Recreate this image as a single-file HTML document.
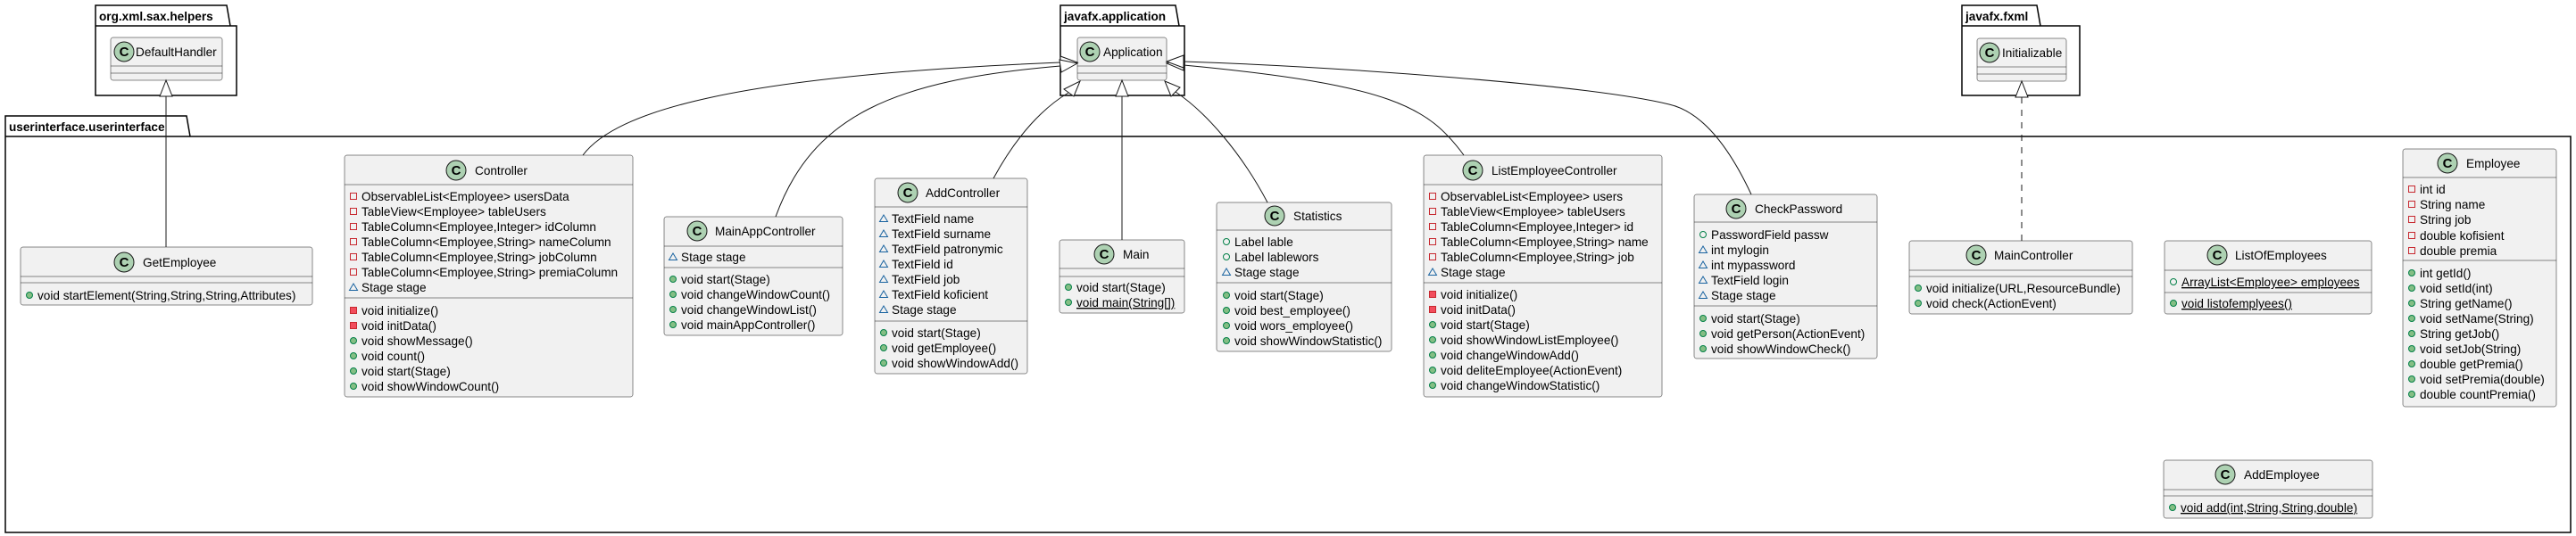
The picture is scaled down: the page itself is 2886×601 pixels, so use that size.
<!DOCTYPE html>
<html><head><meta charset="utf-8"><style>
html,body{margin:0;padding:0;background:#fff;}
svg{display:block;}
text{font-family:"Liberation Sans",Arial,sans-serif;font-size:13.6px;fill:#000;}
.pk{font-weight:bold;font-size:13.6px;}
.cb{fill:#F1F1F1;stroke:#181818;stroke-width:0.5;}
.sep{stroke:#181818;stroke-width:0.5;}
.pkg{fill:none;stroke:#000;stroke-width:1.5;}
.ed{fill:none;stroke:#181818;stroke-width:1;}
.tri{fill:#fff;stroke:#181818;stroke-width:1;}
.ci{fill:#ADD1B2;stroke:#181818;stroke-width:1;}
.cc{font-weight:bold;font-size:15px;text-anchor:middle;}
.u{text-decoration:underline;}
</style></head><body>
<svg width="2886" height="601" viewBox="0 0 2886 601" xmlns="http://www.w3.org/2000/svg">
<defs>
<rect id="pf" x="-3.5" y="-3.5" width="7" height="7" fill="none" stroke="#C82930" stroke-width="1"/>
<rect id="pm" x="-3.5" y="-3.5" width="7" height="7" fill="#F24D5C" stroke="#C82930" stroke-width="1"/>
<circle id="um" r="3.5" fill="#84BE84" stroke="#038048" stroke-width="1"/>
<circle id="uf" r="3.5" fill="none" stroke="#038048" stroke-width="1"/>
<polygon id="kf" points="0,-4 4.5,3.5 -4.5,3.5" fill="none" stroke="#1963A0" stroke-width="1"/>
</defs>

<!-- packages -->
<path class="pkg" d="M107,29 V6 H254 L258,29 H265 V107 H107 Z M107,29 H258"/>
<text class="pk" x="111" y="23">org.xml.sax.helpers</text>
<path class="pkg" d="M1188,29 V6 H1317 L1321,29 H1327 V107 H1188 Z M1188,29 H1321"/>
<text class="pk" x="1192" y="23">javafx.application</text>
<path class="pkg" d="M2198,29 V6 H2282 L2286,29 H2330 V107 H2198 Z M2198,29 H2286"/>
<text class="pk" x="2202" y="23">javafx.fxml</text>
<path class="pkg" d="M6,153 V130 H209 L213,153 H2880 V597 H6 Z M6,153 H213"/>
<text class="pk" x="10" y="147">userinterface.userinterface</text>

<!-- DefaultHandler -->
<rect class="cb" x="124" y="42" width="125" height="48" rx="2.5"/>
<line class="sep" x1="124" y1="74" x2="249" y2="74"/><line class="sep" x1="124" y1="82" x2="249" y2="82"/>
<circle class="ci" cx="139" cy="58" r="11"/><text class="cc" x="139" y="63">C</text>
<text x="152" y="63">DefaultHandler</text>

<!-- Application -->
<rect class="cb" x="1207" y="42" width="100" height="48" rx="2.5"/>
<line class="sep" x1="1207" y1="74" x2="1307" y2="74"/><line class="sep" x1="1207" y1="82" x2="1307" y2="82"/>
<circle class="ci" cx="1221" cy="58" r="11"/><text class="cc" x="1221" y="63">C</text>
<text x="1236" y="63">Application</text>

<!-- Initializable -->
<rect class="cb" x="2215" y="43" width="100" height="48" rx="2.5"/>
<line class="sep" x1="2215" y1="75" x2="2315" y2="75"/><line class="sep" x1="2215" y1="83" x2="2315" y2="83"/>
<circle class="ci" cx="2229" cy="59" r="11"/><text class="cc" x="2229" y="64">C</text>
<text x="2243" y="64">Initializable</text>

<!-- GetEmployee -->
<rect class="cb" x="23" y="277" width="327" height="65" rx="2.5"/>
<line class="sep" x1="23" y1="310" x2="350" y2="310"/><line class="sep" x1="23" y1="317" x2="350" y2="317"/>
<circle class="ci" cx="139" cy="294" r="11"/><text class="cc" x="139" y="299">C</text>
<text x="160" y="299">GetEmployee</text>
<use href="#um" x="33" y="331"/><text x="42" y="336">void startElement(String,String,String,Attributes)</text>

<!-- Controller -->
<rect class="cb" x="386" y="174" width="323" height="271" rx="2.5"/>
<line class="sep" x1="386" y1="207" x2="709" y2="207"/><line class="sep" x1="386" y1="334" x2="709" y2="334"/>
<circle class="ci" cx="511" cy="191" r="11"/><text class="cc" x="511" y="196">C</text>
<text x="532" y="196">Controller</text>
<use href="#pf" x="396" y="220"/><text x="405" y="225">ObservableList&lt;Employee&gt; usersData</text>
<use href="#pf" x="396" y="237"/><text x="405" y="242">TableView&lt;Employee&gt; tableUsers</text>
<use href="#pf" x="396" y="254"/><text x="405" y="259">TableColumn&lt;Employee,Integer&gt; idColumn</text>
<use href="#pf" x="396" y="271"/><text x="405" y="276">TableColumn&lt;Employee,String&gt; nameColumn</text>
<use href="#pf" x="396" y="288"/><text x="405" y="293">TableColumn&lt;Employee,String&gt; jobColumn</text>
<use href="#pf" x="396" y="305"/><text x="405" y="310">TableColumn&lt;Employee,String&gt; premiaColumn</text>
<use href="#kf" x="396" y="322"/><text x="405" y="327">Stage stage</text>
<use href="#pm" x="396" y="348"/><text x="405" y="353">void initialize()</text>
<use href="#pm" x="396" y="365"/><text x="405" y="370">void initData()</text>
<use href="#um" x="396" y="382"/><text x="405" y="387">void showMessage()</text>
<use href="#um" x="396" y="399"/><text x="405" y="404">void count()</text>
<use href="#um" x="396" y="416"/><text x="405" y="421">void start(Stage)</text>
<use href="#um" x="396" y="433"/><text x="405" y="438">void showWindowCount()</text>

<!-- MainAppController -->
<rect class="cb" x="744" y="243" width="200" height="133" rx="2.5"/>
<line class="sep" x1="744" y1="276" x2="944" y2="276"/><line class="sep" x1="744" y1="300" x2="944" y2="300"/>
<circle class="ci" cx="781" cy="259" r="11"/><text class="cc" x="781" y="264">C</text>
<text x="801" y="264">MainAppController</text>
<use href="#kf" x="754" y="288"/><text x="763" y="293">Stage stage</text>
<use href="#um" x="754" y="313"/><text x="763" y="318">void start(Stage)</text>
<use href="#um" x="754" y="330"/><text x="763" y="335">void changeWindowCount()</text>
<use href="#um" x="754" y="347"/><text x="763" y="352">void changeWindowList()</text>
<use href="#um" x="754" y="364"/><text x="763" y="369">void mainAppController()</text>

<!-- AddController -->
<rect class="cb" x="980" y="200" width="171" height="219" rx="2.5"/>
<line class="sep" x1="980" y1="232" x2="1151" y2="232"/><line class="sep" x1="980" y1="360" x2="1151" y2="360"/>
<circle class="ci" cx="1017" cy="216" r="11"/><text class="cc" x="1017" y="221">C</text>
<text x="1037" y="221">AddController</text>
<use href="#kf" x="990" y="245"/><text x="999" y="250">TextField name</text>
<use href="#kf" x="990" y="262"/><text x="999" y="267">TextField surname</text>
<use href="#kf" x="990" y="279"/><text x="999" y="284">TextField patronymic</text>
<use href="#kf" x="990" y="296"/><text x="999" y="301">TextField id</text>
<use href="#kf" x="990" y="313"/><text x="999" y="318">TextField job</text>
<use href="#kf" x="990" y="330"/><text x="999" y="335">TextField koficient</text>
<use href="#kf" x="990" y="347"/><text x="999" y="352">Stage stage</text>
<use href="#um" x="990" y="373"/><text x="999" y="378">void start(Stage)</text>
<use href="#um" x="990" y="390"/><text x="999" y="395">void getEmployee()</text>
<use href="#um" x="990" y="407"/><text x="999" y="412">void showWindowAdd()</text>

<!-- Main -->
<rect class="cb" x="1187" y="269" width="140" height="82" rx="2.5"/>
<line class="sep" x1="1187" y1="301" x2="1327" y2="301"/><line class="sep" x1="1187" y1="310" x2="1327" y2="310"/>
<circle class="ci" cx="1237" cy="285" r="11"/><text class="cc" x="1237" y="290">C</text>
<text x="1258" y="290">Main</text>
<use href="#um" x="1197" y="322"/><text x="1206" y="327">void start(Stage)</text>
<use href="#um" x="1197" y="339"/><text class="u" x="1206" y="344">void main(String[])</text>

<!-- Statistics -->
<rect class="cb" x="1363" y="227" width="196" height="167" rx="2.5"/>
<line class="sep" x1="1363" y1="258" x2="1559" y2="258"/><line class="sep" x1="1363" y1="317" x2="1559" y2="317"/>
<circle class="ci" cx="1428" cy="242" r="11"/><text class="cc" x="1428" y="247">C</text>
<text x="1449" y="247">Statistics</text>
<use href="#uf" x="1374" y="271"/><text x="1383" y="276">Label lable</text>
<use href="#uf" x="1374" y="288"/><text x="1383" y="293">Label lablewors</text>
<use href="#kf" x="1374" y="305"/><text x="1383" y="310">Stage stage</text>
<use href="#um" x="1374" y="331"/><text x="1383" y="336">void start(Stage)</text>
<use href="#um" x="1374" y="348"/><text x="1383" y="353">void best_employee()</text>
<use href="#um" x="1374" y="365"/><text x="1383" y="370">void wors_employee()</text>
<use href="#um" x="1374" y="382"/><text x="1383" y="387">void showWindowStatistic()</text>

<!-- ListEmployeeController -->
<rect class="cb" x="1595" y="174" width="267" height="271" rx="2.5"/>
<line class="sep" x1="1595" y1="207" x2="1862" y2="207"/><line class="sep" x1="1595" y1="317" x2="1862" y2="317"/>
<circle class="ci" cx="1650" cy="191" r="11"/><text class="cc" x="1650" y="196">C</text>
<text x="1671" y="196">ListEmployeeController</text>
<use href="#pf" x="1605" y="220"/><text x="1614" y="225">ObservableList&lt;Employee&gt; users</text>
<use href="#pf" x="1605" y="237"/><text x="1614" y="242">TableView&lt;Employee&gt; tableUsers</text>
<use href="#pf" x="1605" y="254"/><text x="1614" y="259">TableColumn&lt;Employee,Integer&gt; id</text>
<use href="#pf" x="1605" y="271"/><text x="1614" y="276">TableColumn&lt;Employee,String&gt; name</text>
<use href="#pf" x="1605" y="288"/><text x="1614" y="293">TableColumn&lt;Employee,String&gt; job</text>
<use href="#kf" x="1605" y="305"/><text x="1614" y="310">Stage stage</text>
<use href="#pm" x="1605" y="330"/><text x="1614" y="335">void initialize()</text>
<use href="#pm" x="1605" y="347"/><text x="1614" y="352">void initData()</text>
<use href="#um" x="1605" y="364"/><text x="1614" y="369">void start(Stage)</text>
<use href="#um" x="1605" y="381"/><text x="1614" y="386">void showWindowListEmployee()</text>
<use href="#um" x="1605" y="398"/><text x="1614" y="403">void changeWindowAdd()</text>
<use href="#um" x="1605" y="415"/><text x="1614" y="420">void deliteEmployee(ActionEvent)</text>
<use href="#um" x="1605" y="432"/><text x="1614" y="437">void changeWindowStatistic()</text>

<!-- CheckPassword -->
<rect class="cb" x="1898" y="218" width="205" height="184" rx="2.5"/>
<line class="sep" x1="1898" y1="249" x2="2103" y2="249"/><line class="sep" x1="1898" y1="343" x2="2103" y2="343"/>
<circle class="ci" cx="1945" cy="234" r="11"/><text class="cc" x="1945" y="239">C</text>
<text x="1966" y="239">CheckPassword</text>
<use href="#uf" x="1908" y="263"/><text x="1917" y="268">PasswordField passw</text>
<use href="#kf" x="1908" y="280"/><text x="1917" y="285">int mylogin</text>
<use href="#kf" x="1908" y="297"/><text x="1917" y="302">int mypassword</text>
<use href="#kf" x="1908" y="314"/><text x="1917" y="319">TextField login</text>
<use href="#kf" x="1908" y="331"/><text x="1917" y="336">Stage stage</text>
<use href="#um" x="1908" y="357"/><text x="1917" y="362">void start(Stage)</text>
<use href="#um" x="1908" y="374"/><text x="1917" y="379">void getPerson(ActionEvent)</text>
<use href="#um" x="1908" y="391"/><text x="1917" y="396">void showWindowCheck()</text>

<!-- MainController -->
<rect class="cb" x="2139" y="270" width="250" height="82" rx="2.5"/>
<line class="sep" x1="2139" y1="303" x2="2389" y2="303"/><line class="sep" x1="2139" y1="310" x2="2389" y2="310"/>
<circle class="ci" cx="2214" cy="286" r="11"/><text class="cc" x="2214" y="291">C</text>
<text x="2234" y="291">MainController</text>
<use href="#um" x="2149" y="323"/><text x="2158" y="328">void initialize(URL,ResourceBundle)</text>
<use href="#um" x="2149" y="340"/><text x="2158" y="345">void check(ActionEvent)</text>

<!-- ListOfEmployees -->
<rect class="cb" x="2425" y="270" width="232" height="82" rx="2.5"/>
<line class="sep" x1="2425" y1="303" x2="2657" y2="303"/><line class="sep" x1="2425" y1="328" x2="2657" y2="328"/>
<circle class="ci" cx="2484" cy="286" r="11"/><text class="cc" x="2484" y="291">C</text>
<text x="2504" y="291">ListOfEmployees</text>
<use href="#uf" x="2435" y="316"/><text class="u" x="2444" y="321">ArrayList&lt;Employee&gt; employees</text>
<use href="#um" x="2435" y="340"/><text class="u" x="2444" y="345">void listofemplyees()</text>

<!-- Employee -->
<rect class="cb" x="2692" y="167" width="172" height="289" rx="2.5"/>
<line class="sep" x1="2692" y1="199" x2="2864" y2="199"/><line class="sep" x1="2692" y1="292" x2="2864" y2="292"/>
<circle class="ci" cx="2742" cy="183" r="11"/><text class="cc" x="2742" y="188">C</text>
<text x="2763" y="188">Employee</text>
<use href="#pf" x="2702" y="212"/><text x="2711" y="217">int id</text>
<use href="#pf" x="2702" y="229"/><text x="2711" y="234">String name</text>
<use href="#pf" x="2702" y="246"/><text x="2711" y="251">String job</text>
<use href="#pf" x="2702" y="264"/><text x="2711" y="269">double kofisient</text>
<use href="#pf" x="2702" y="281"/><text x="2711" y="286">double premia</text>
<use href="#um" x="2702" y="306"/><text x="2711" y="311">int getId()</text>
<use href="#um" x="2702" y="323"/><text x="2711" y="328">void setId(int)</text>
<use href="#um" x="2702" y="340"/><text x="2711" y="345">String getName()</text>
<use href="#um" x="2702" y="357"/><text x="2711" y="362">void setName(String)</text>
<use href="#um" x="2702" y="374"/><text x="2711" y="379">String getJob()</text>
<use href="#um" x="2702" y="391"/><text x="2711" y="396">void setJob(String)</text>
<use href="#um" x="2702" y="408"/><text x="2711" y="413">double getPremia()</text>
<use href="#um" x="2702" y="425"/><text x="2711" y="430">void setPremia(double)</text>
<use href="#um" x="2702" y="442"/><text x="2711" y="447">double countPremia()</text>

<!-- AddEmployee -->
<rect class="cb" x="2424" y="516" width="234" height="65" rx="2.5"/>
<line class="sep" x1="2424" y1="549" x2="2658" y2="549"/><line class="sep" x1="2424" y1="556" x2="2658" y2="556"/>
<circle class="ci" cx="2493" cy="532" r="11"/><text class="cc" x="2493" y="537">C</text>
<text x="2514" y="537">AddEmployee</text>
<use href="#um" x="2434" y="569"/><text class="u" x="2443" y="574">void add(int,String,String,double)</text>

<!-- edges -->
<line class="ed" x1="186" y1="108" x2="186" y2="277"/>
<polygon class="tri" points="186,90 179,108 193,108"/>

<line class="ed" x1="1257" y1="108" x2="1257" y2="269"/>
<polygon class="tri" points="1257,90 1250,108 1264,108"/>

<line class="ed" x1="2265" y1="109" x2="2265" y2="270" stroke-dasharray="7,7"/>
<polygon class="tri" points="2265,91 2258,109 2272,109"/>

<path class="ed" d="M653,174 C690,125 820,85 1188,70"/>
<polygon class="tri" points="1207,70 1188,63 1188,77"/>

<path class="ed" d="M869,243 C910,130 1000,90 1188,74"/>
<polygon class="tri" points="1207,71 1187,67 1189,81"/>

<path class="ed" d="M1113,200 C1140,150 1170,120 1197,104"/>
<polygon class="tri" points="1210,91 1203,108 1192,100"/>

<path class="ed" d="M1420,227 C1390,170 1350,125 1317,103"/>
<polygon class="tri" points="1305,91 1322,98 1312,108"/>

<path class="ed" d="M1640,174 C1600,120 1560,95 1326,73"/>
<polygon class="tri" points="1307,71 1326,65 1326,79"/>

<path class="ed" d="M1962,218 C1935,160 1905,125 1870,117 C1780,95 1500,75 1326,69"/>
<polygon class="tri" points="1307,69 1326,62 1326,76"/>
</svg>
</body></html>
